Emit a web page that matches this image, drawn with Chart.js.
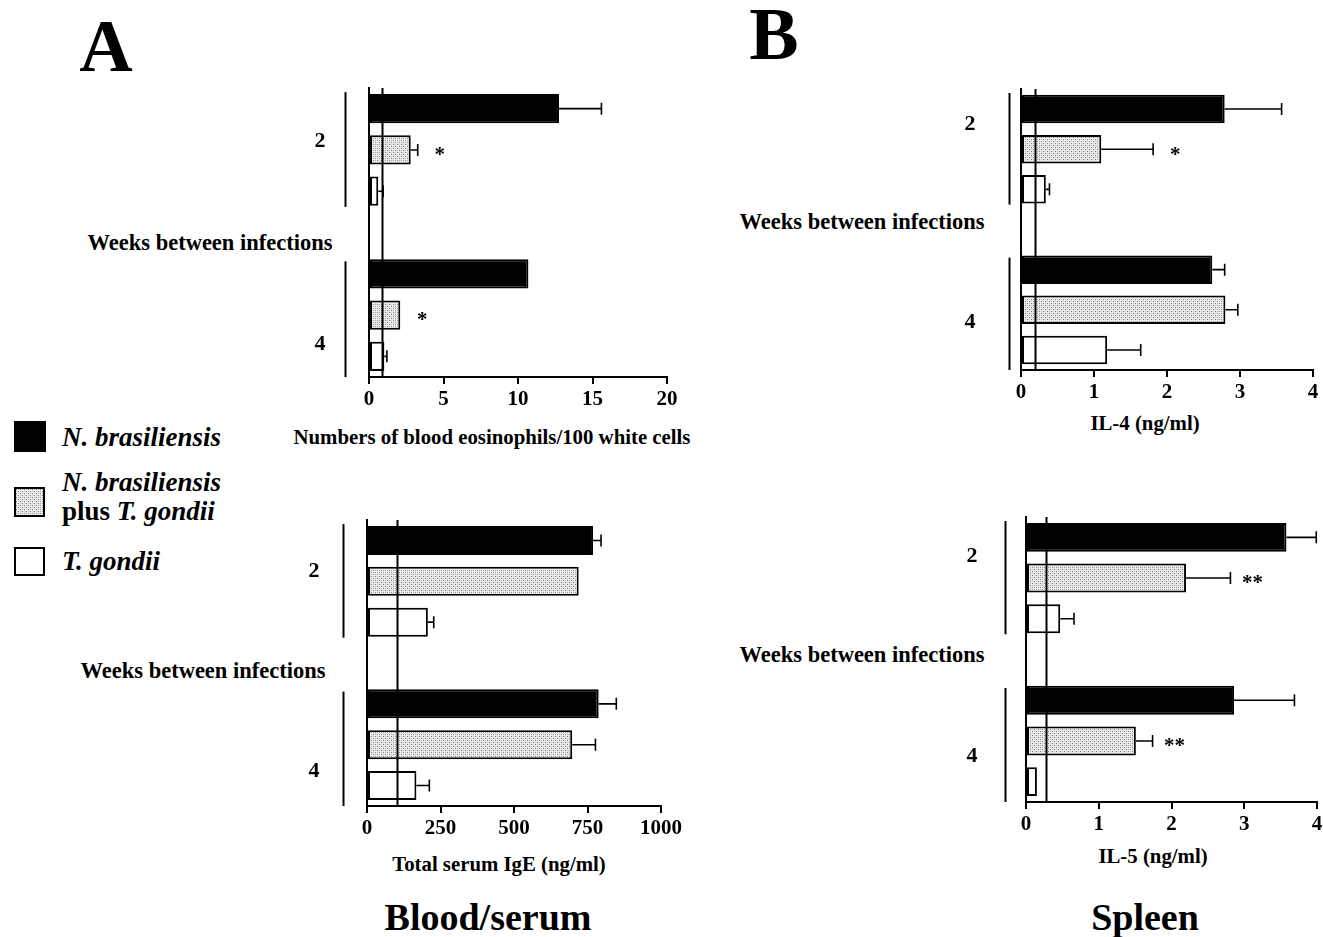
<!DOCTYPE html>
<html>
<head>
<meta charset="utf-8">
<script src="https://cdn.jsdelivr.net/npm/chart.js@4.4.1/dist/chart.umd.min.js"></script>
<style>
  html, body { margin:0; padding:0; background:#fff; }
  body { width:1323px; height:937px; position:relative; overflow:hidden;
         font-family:'Liberation Serif','Times New Roman',serif; font-weight:bold; color:#000; }
  .t { position:absolute; white-space:nowrap; transform:translate(-50%,-50%); line-height:1; }
  .l { position:absolute; white-space:nowrap; transform:translateY(-50%); line-height:1; }
  .sw { position:absolute; box-sizing:border-box; border:2px solid #000; }
  canvas { position:absolute; }
  i { font-style:italic; }
</style>
</head>
<body>
<div class="t" style="left:106px;top:46px;font-size:74px;">A</div>
<div class="t" style="left:774px;top:34px;font-size:74px;">B</div>

<div class="t" style="left:488px;top:917px;font-size:38px;">Blood/serum</div>
<div class="t" style="left:1145px;top:917px;font-size:38px;">Spleen</div>

<div class="t" style="left:210px;top:243px;font-size:22.5px;">Weeks between infections</div>
<div class="t" style="left:203px;top:671px;font-size:22.5px;">Weeks between infections</div>
<div class="t" style="left:862px;top:222px;font-size:22.5px;">Weeks between infections</div>
<div class="t" style="left:862px;top:655px;font-size:22.5px;">Weeks between infections</div>

<div class="t" style="left:492px;top:437px;font-size:20.8px;">Numbers of blood eosinophils/100 white cells</div>
<div class="t" style="left:499px;top:864px;font-size:20.8px;">Total serum IgE (ng/ml)</div>
<div class="t" style="left:1145px;top:423px;font-size:20.8px;">IL-4 (ng/ml)</div>
<div class="t" style="left:1153px;top:856px;font-size:20.8px;">IL-5 (ng/ml)</div>

<!-- legend -->
<div class="sw" style="left:14px;top:421px;width:32px;height:31px;background:#000;"></div>
<div class="l" style="left:62px;top:437px;font-size:27px;"><i>N. brasiliensis</i></div>
<div class="sw" id="swDot" style="left:14px;top:487px;width:31px;height:30px;"></div>
<div class="l" style="left:62px;top:482px;font-size:27px;"><i>N. brasiliensis</i></div>
<div class="l" style="left:62px;top:511px;font-size:27px;">plus <i>T. gondii</i></div>
<div class="sw" style="left:14px;top:547px;width:31px;height:29px;background:#fff;"></div>
<div class="l" style="left:62px;top:561px;font-size:27px;"><i>T. gondii</i></div>

<script>
// weeks between infections
const weeks = ['2', '4'];

// blood eosinophils / 100 white cells, [week 2, week 4]
const eosNb = [12.75, 10.7];
const eosNbErr = [2.85, 0];
const eosNbTg = [2.8, 2.1];
const eosNbTgErr = [0.47, 0];
const eosTg = [0.62, 1.03];
const eosTgErr = [0.33, 0.17];
const eosSig = ['*', '*'];
const eosLimit = 0.85;

// total serum IgE (ng/ml)
const igeNb = [769, 788];
const igeNbErr = [27, 60];
const igeNbTg = [720, 698];
const igeNbTgErr = [0, 79];
const igeTg = [207, 168];
const igeTgErr = [20, 44];
const igeSig = ['', ''];
const igeLimit = 102;

// IL-4 (ng/ml)
const il4Nb = [2.79, 2.62];
const il4NbErr = [0.78, 0.17];
const il4NbTg = [1.10, 2.80];
const il4NbTgErr = [0.71, 0.17];
const il4Tg = [0.34, 1.18];
const il4TgErr = [0.05, 0.46];
const il4Sig = ['*', ''];
const il4Limit = 0.19;

// IL-5 (ng/ml)
const il5Nb = [3.58, 2.86];
const il5NbErr = [0.41, 0.83];
const il5NbTg = [2.20, 1.51];
const il5NbTgErr = [0.61, 0.23];
const il5Tg = [0.47, 0.15];
const il5TgErr = [0.19, 0];
const il5Sig = ['**', '**'];
const il5Limit = 0.28;

const FONT = "'Liberation Serif','Times New Roman',serif";
const PAD_L = 90, PAD_T = 6, PAD_R = 30, AXIS_H = 40;

// fine gray stipple for the combined infection
function makeStipple() {
  const c = document.createElement('canvas');
  c.width = 4; c.height = 4;
  const g = c.getContext('2d');
  g.fillStyle = '#ebebeb'; g.fillRect(0, 0, 4, 4);
  g.fillStyle = '#8a8a8a';
  g.fillRect(0, 0, 1, 1); g.fillRect(2, 2, 1, 1);
  g.fillStyle = '#b4b4b4';
  g.fillRect(2, 0, 1, 1); g.fillRect(0, 2, 1, 1);
  return c;
}
const stipple = makeStipple();
document.getElementById('swDot').style.backgroundImage = 'url(' + stipple.toDataURL() + ')';

// 7 slots: week 2 bars, one empty, week 4 bars
function toSlots(vals, s) {
  const out = new Array(7).fill(null);
  vals.forEach((v, g) => { out[g * 4 + s] = v; });
  return out;
}

const extras = {
  id: 'extras',
  afterDatasetsDraw(chart, args, o) {
    const ctx = chart.ctx, x = chart.scales.x, a = chart.chartArea;
    ctx.save();
    ctx.strokeStyle = '#000';
    ctx.fillStyle = '#000';
    // detection limit line
    const lx = Math.round(x.getPixelForValue(o.limit)) + 0.5;
    ctx.lineWidth = 2;
    ctx.beginPath(); ctx.moveTo(lx, a.top); ctx.lineTo(lx, a.bottom); ctx.stroke();
    // error bars + significance marks
    ctx.font = 'bold 21px ' + FONT;
    ctx.textAlign = 'center';
    ctx.textBaseline = 'middle';
    chart.data.datasets.forEach((ds, i) => {
      const meta = chart.getDatasetMeta(i);
      ds.data.forEach((v, j) => {
        if (v == null) return;
        const bar = meta.data[j];
        const e = ds.err[j];
        let end = bar.x;
        if (e > 0) {
          end = x.getPixelForValue(v + e);
          ctx.lineWidth = 1.6;
          ctx.beginPath();
          ctx.moveTo(bar.x, bar.y); ctx.lineTo(end, bar.y);
          ctx.moveTo(end, bar.y - 6); ctx.lineTo(end, bar.y + 6);
          ctx.stroke();
        }
        if (ds.sig && ds.sig[j]) ctx.fillText(ds.sig[j], end + 22, bar.y + 6);
      });
    });
    ctx.restore();
  },
  afterDraw(chart, args, o) {
    const ctx = chart.ctx, y = chart.scales.y, a = chart.chartArea;
    ctx.save();
    ctx.strokeStyle = '#000';
    ctx.fillStyle = '#000';
    ctx.lineWidth = 2;
    ctx.font = 'bold 22px ' + FONT;
    ctx.textAlign = 'center';
    ctx.textBaseline = 'middle';
    weeks.forEach((w, g) => {
      const span = o.spans[g];
      const bx = Math.round(a.left - o.bracketDx) + 0.5;
      ctx.beginPath();
      ctx.moveTo(bx, y.getPixelForValue(span[0]));
      ctx.lineTo(bx, y.getPixelForValue(span[1]));
      ctx.stroke();
      ctx.fillText(w, a.left - o.labelDx, y.getPixelForValue(o.labelAt[g]));
    });
    ctx.restore();
  }
};

function ctxPattern(cv) {
  return cv.getContext('2d').createPattern(stipple, 'repeat');
}

function makePanel(p) {
  const [l, t, r, b] = p.area;
  const cv = document.createElement('canvas');
  const w = Math.round(r - l) + PAD_L + PAD_R;
  const h = Math.round(b - t) + PAD_T + AXIS_H;
  cv.width = w; cv.height = h;
  cv.style.left = (l - PAD_L) + 'px';
  cv.style.top = (t - PAD_T) + 'px';
  cv.style.width = w + 'px'; cv.style.height = h + 'px';
  document.body.appendChild(cv);

  const fills = ['#000', ctxPattern(cv), '#fff'];
  const datasets = p.series.map((s, k) => ({
    data: toSlots(s.v, k),
    err: toSlots(s.e, k),
    sig: k === 1 ? toSlots(p.sig, k) : null,
    backgroundColor: fills[k],
    borderColor: '#000',
    borderWidth: 2,
    borderSkipped: false,
    grouped: false,
    categoryPercentage: 1,
    barPercentage: 0.71
  }));

  new Chart(cv, {
    type: 'bar',
    data: { labels: ['a', 'b', 'c', 'd', 'e', 'f', 'g'], datasets },
    options: {
      indexAxis: 'y',
      responsive: false,
      animation: false,
      devicePixelRatio: 1,
      layout: { padding: { left: PAD_L, top: PAD_T, right: PAD_R, bottom: 0 } },
      plugins: {
        legend: { display: false },
        tooltip: { enabled: false },
        extras: { limit: p.limit, spans: [[-0.4, 2.38], [3.7, 6.5]], bracketDx: p.bracketDx, labelDx: p.labelDx, labelAt: p.labelAt }
      },
      scales: {
        x: {
          min: 0, max: p.max,
          afterFit: s => { s.height = AXIS_H; },
          border: { display: true, color: '#000', width: 2 },
          grid: { display: true, drawOnChartArea: false, drawTicks: true, tickLength: 7, color: '#000', lineWidth: 2 },
          ticks: {
            stepSize: p.step, color: '#000', padding: 3, maxRotation: 0,
            callback: v => String(v),
            font: { family: FONT, size: 21, weight: 'bold' }
          }
        },
        y: {
          afterFit: s => { s.width = 0; },
          border: { display: true, color: '#000', width: 2 },
          grid: { display: false },
          ticks: { display: false }
        }
      }
    },
    plugins: [extras]
  });
}

makePanel({
  area: [369, 87.5, 667, 376], max: 20, step: 5, limit: eosLimit, sig: eosSig,
  series: [{ v: eosNb, e: eosNbErr }, { v: eosNbTg, e: eosNbTgErr }, { v: eosTg, e: eosTgErr }],
  bracketDx: 24, labelDx: 49, labelAt: [0.8, 5.72]
});
makePanel({
  area: [367, 520, 661, 806], max: 1000, step: 250, limit: igeLimit, sig: igeSig,
  series: [{ v: igeNb, e: igeNbErr }, { v: igeNbTg, e: igeNbTgErr }, { v: igeTg, e: igeTgErr }],
  bracketDx: 24, labelDx: 53, labelAt: [0.76, 5.66]
});
makePanel({
  area: [1021, 88.5, 1313, 369], max: 4, step: 1, limit: il4Limit, sig: il4Sig,
  series: [{ v: il4Nb, e: il4NbErr }, { v: il4NbTg, e: il4NbTgErr }, { v: il4Tg, e: il4TgErr }],
  bracketDx: 12, labelDx: 51, labelAt: [0.38, 5.32]
});
makePanel({
  area: [1026, 517, 1317, 802], max: 4, step: 1, limit: il5Limit, sig: il5Sig,
  series: [{ v: il5Nb, e: il5NbErr }, { v: il5NbTg, e: il5NbTgErr }, { v: il5Tg, e: il5TgErr }],
  bracketDx: 21, labelDx: 54, labelAt: [0.46, 5.37]
});
</script>
</body>
</html>
